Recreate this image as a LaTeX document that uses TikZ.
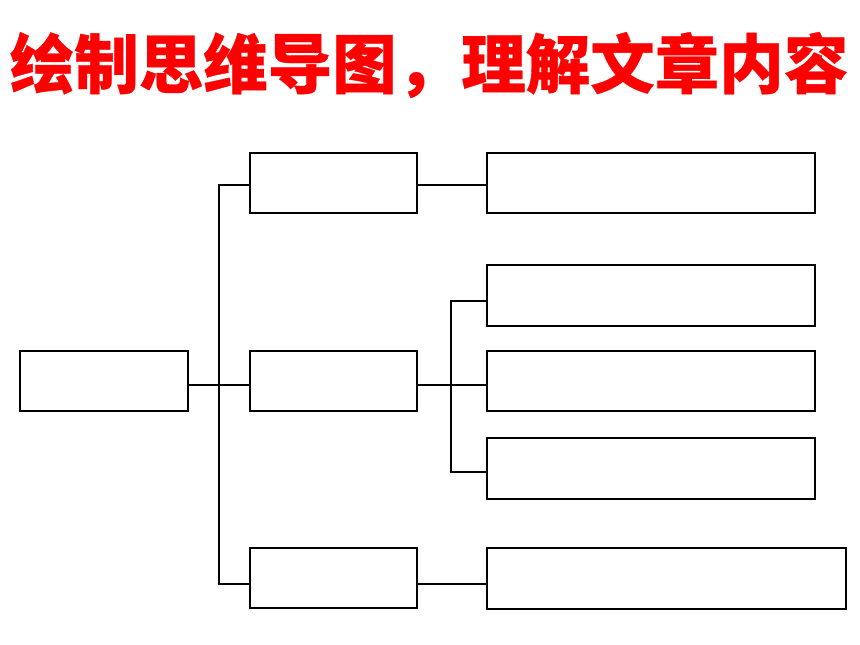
\documentclass[tikz,border=0pt]{standalone}
\usepackage{fontspec}
\newfontfamily\cjk{Noto Sans CJK SC}[FakeBold=0.5]
\begin{document}
\begin{tikzpicture}[x=1pt,y=-1pt,
  box/.style={draw=black,line width=2pt,inner sep=0pt,minimum height=60pt},
  mbox/.style={box,minimum width=167pt},
  rbox/.style={box,minimum width=328pt},
  link/.style={draw=black,line width=2pt,line join=miter}]
\useasboundingbox (0,0) rectangle (860,645);
\node[text=red,font=\cjk\bfseries\fontsize{64.5}{70}\selectfont] (title) at (429,65) {绘制思维导图，理解文章内容};
\node[box,minimum width=168pt] (root) at (104,381) {};
\node[mbox] (m1) at (333.5,183) {};
\node[mbox] (m2) at (333.5,381) {};
\node[mbox] (m3) at (333.5,578) {};
\node[rbox] (r1) at (651,183) {};
\node[rbox,minimum height=61pt] (r2) at (651,295.5) {};
\node[rbox] (r3) at (651,381) {};
\node[rbox,minimum height=61pt] (r4) at (651,468.5) {};
\node[box,minimum width=359pt,minimum height=61pt] (r5) at (666.5,578.5) {};
\coordinate (t1) at (219,185);
\coordinate (t2) at (219,385);
\coordinate (t3) at (219,584);
\coordinate (s1) at (451,301);
\coordinate (s2) at (451,385);
\coordinate (s3) at (451,472);
\draw[link] (m1.west |- t1) -- (t1) -- (t3) -- (m3.west |- t3);
\draw[link] (root.east |- t2) -- (m2.west |- t2);
\draw[link] (m1.east |- t1) -- (r1.west |- t1);
\draw[link] (m2.east |- t2) -- (r3.west |- t2);
\draw[link] (m3.east |- t3) -- (r5.west |- t3);
\draw[link] (r2.west |- s1) -- (s1) -- (s3) -- (r4.west |- s3);
\end{tikzpicture}
\end{document}
